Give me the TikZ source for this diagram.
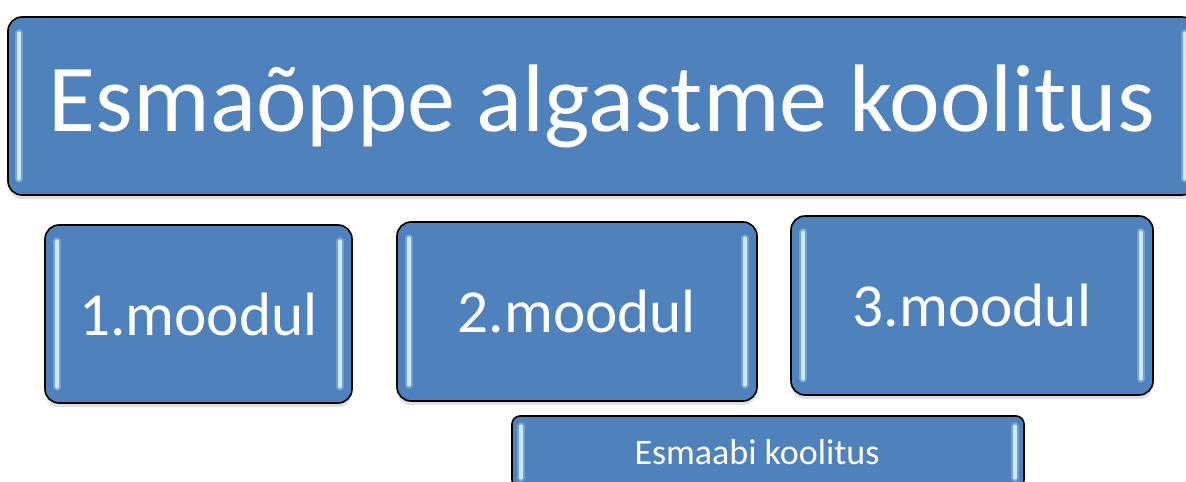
\documentclass[tikz,border=0pt]{standalone}
\usepackage{fontspec}
\setmainfont{Carlito}
\usetikzlibrary{calc,shadows}
\definecolor{boxblue}{RGB}{79,129,189}
\definecolor{glintblue}{RGB}{205,235,255}
\tikzset{
  blockbox/.style={draw=black, line width=0.8pt, fill=boxblue, rounded corners=7pt,
    text=white, inner sep=0pt,
    drop shadow={shadow xshift=0pt, shadow yshift=-2pt, opacity=0.25}},
  glint/.style={glintblue, line width=1.8pt, line cap=round},
  halo/.style={glintblue, line width=4pt, line cap=round, opacity=0.3}
}
\begin{document}
\begin{tikzpicture}[x=0.5pt, y=-0.5pt]
\useasboundingbox (0,0) rectangle (1186,481);

\node[blockbox, minimum width=594pt, minimum height=89pt, font=\fontsize{48}{56}\selectfont]
  (title) at (602,106) {Esmaõppe algastme koolitus};
\node[blockbox, minimum width=153.5pt, minimum height=89pt, font=\fontsize{30.6}{36}\selectfont]
  (m1) at (198.5,314) {1.moodul};
\node[blockbox, minimum width=180pt, minimum height=89.5pt, font=\fontsize{30.6}{36}\selectfont]
  (m2) at (577,311.5) {2.moodul};
\node[blockbox, minimum width=181pt, minimum height=89.5pt, font=\fontsize{30.6}{36}\selectfont]
  (m3) at (972,305.5) {3.moodul};
\node[blockbox, rounded corners=4pt, minimum width=256pt, minimum height=36pt, font=\fontsize{18}{21}\selectfont]
  (aid) at (768,452) {Esmaabi koolitus\hspace*{11pt}};

% light edges
\foreach \n/\dx/\dy in {title/12/17, m1/13/17, m2/13/17, m3/13/17, aid/10/11} {
  \draw[halo] ($(\n.north west)+(\dx,\dy)$) -- ($(\n.south west)+(\dx,-\dy)$);
  \draw[halo] ($(\n.north east)+(-\dx,\dy)$) -- ($(\n.south east)+(-\dx,-\dy)$);
  \draw[glint] ($(\n.north west)+(\dx,\dy)$) -- ($(\n.south west)+(\dx,-\dy)$);
  \draw[glint] ($(\n.north east)+(-\dx,\dy)$) -- ($(\n.south east)+(-\dx,-\dy)$);
}
\end{tikzpicture}
\end{document}
